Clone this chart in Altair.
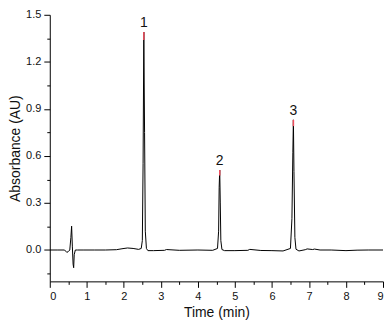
import altair as alt
import pandas as pd

# chromatogram trace (time in min, absorbance in AU)
time = [0.0, 0.2, 0.4, 0.46, 0.5, 0.54, 0.57, 0.59, 0.61, 0.63, 0.645, 0.66, 0.69, 0.75, 0.9,
        1.2, 1.5, 1.8, 1.95, 2.1, 2.25, 2.4, 2.47, 2.5, 2.52, 2.54, 2.56, 2.58, 2.61, 2.65,
        2.8, 3.1, 3.15, 3.5, 4.0, 4.4, 4.53, 4.56, 4.575, 4.59, 4.605, 4.62, 4.65, 4.72,
        5.0, 5.35, 5.4, 5.7, 6.0, 6.3, 6.5, 6.54, 6.565, 6.58, 6.595, 6.62, 6.65, 6.73,
        6.9, 6.95, 7.1, 7.15, 7.3, 7.6, 8.0, 8.3, 8.6, 9.0]
absorb = [0.0, 0.0, 0.0, -0.015, -0.01, 0.0, 0.08, 0.152, 0.02, -0.09, -0.113, -0.03, 0.0, 0.0, 0.0,
          0.0, 0.0, 0.002, 0.008, 0.013, 0.01, 0.004, 0.01, 0.06, 0.55, 1.39, 0.75, 0.12, 0.01, -0.004,
          -0.004, -0.002, 0.003, -0.002, 0.0, -0.002, 0.01, 0.12, 0.4, 0.51, 0.3, 0.06, 0.003, -0.004,
          -0.004, -0.002, 0.004, -0.003, -0.004, -0.006, 0.01, 0.2, 0.62, 0.83, 0.5, 0.08, 0.005, -0.006,
          0.002, 0.007, 0.003, 0.006, 0.0, 0.0, -0.004, -0.001, 0.0, 0.0]

# peaks
peak_label = ["1", "2", "3"]
peak_time = [2.54, 4.59, 6.58]
peak_top = [1.39, 0.51, 0.83]
peak_tip_low = [1.34, 0.475, 0.79]

# axis ticks
x_major = [0, 1, 2, 3, 4, 5, 6, 7, 8, 9]
x_minor = [0.5, 1.5, 2.5, 3.5, 4.5, 5.5, 6.5, 7.5, 8.5]
y_major = [0.0, 0.3, 0.6, 0.9, 1.2, 1.5]
y_minor = [-0.15, 0.15, 0.45, 0.75, 1.05, 1.35]

FONT = "Liberation Sans"

trace = pd.DataFrame({"t": time, "a": absorb})
peaks = pd.DataFrame({"label": peak_label, "t": peak_time, "top": peak_top, "low": peak_tip_low})

xscale = alt.Scale(domain=[0, 9], nice=False, zero=False)
yscale = alt.Scale(domain=[-0.2, 1.5], nice=False, zero=False)

major_x = alt.Axis(values=x_major, format="d", title="Time (min)", orient="bottom",
                   grid=False, tickSize=6, labelFontSize=11, titleFontSize=14,
                   titleFontWeight="normal", labelFont=FONT, titleFont=FONT,
                   domainColor="black", tickColor="black", labelColor="#111",
                   titleColor="#111", titlePadding=4, labelPadding=3)
major_y = alt.Axis(values=y_major, format=".1f", title="Absorbance (AU)", orient="left",
                   grid=False, tickSize=6, labelFontSize=11, titleFontSize=14,
                   titleFontWeight="normal", labelFont=FONT, titleFont=FONT,
                   domainColor="black", tickColor="black", labelColor="#111",
                   titleColor="#111", titlePadding=3, labelPadding=3)
minor_x = alt.Axis(values=x_minor, labels=False, title=None, orient="bottom", grid=False,
                   tickSize=3, domain=False, tickColor="black")
minor_y = alt.Axis(values=y_minor, labels=False, title=None, orient="left", grid=False,
                   tickSize=3, domain=False, tickColor="black")

line = alt.Chart(trace).mark_line(color="black", strokeWidth=1, clip=True).encode(
    x=alt.X("t:Q", scale=xscale, axis=major_x),
    y=alt.Y("a:Q", scale=yscale, axis=major_y),
)

minor = alt.Chart(peaks).mark_point(opacity=0).encode(
    x=alt.X("t:Q", scale=xscale, axis=minor_x),
    y=alt.Y("top:Q", scale=yscale, axis=minor_y),
)

tips = alt.Chart(peaks).mark_rule(color="#ee4d5c", strokeWidth=1.5).encode(
    x=alt.X("t:Q", scale=xscale, axis=None),
    y=alt.Y("low:Q", scale=yscale, axis=None),
    y2="top:Q",
)

labels = alt.Chart(peaks).mark_text(baseline="bottom", dy=-2, fontSize=14, font=FONT,
                                    color="#111").encode(
    x=alt.X("t:Q", scale=xscale, axis=None),
    y=alt.Y("top:Q", scale=yscale, axis=None),
    text="label:N",
)

chart = alt.layer(line, minor, tips, labels).resolve_axis(
    x="independent", y="independent"
).properties(width=335, height=268, padding=0).configure_view(stroke=None)

chart.save("out.html", embed_options={"renderer": "svg", "actions": False})
